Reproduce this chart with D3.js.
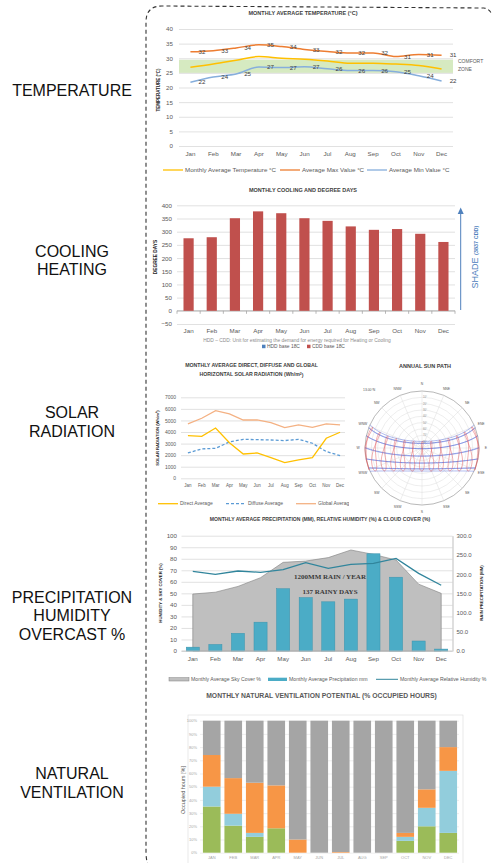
<!DOCTYPE html>
<html>
<head>
<meta charset="utf-8">
<script src="https://cdn.jsdelivr.net/npm/d3@7"></script>
<style>
  body { margin: 0; background: #fff; }
  svg { display: block; }
</style>
</head>
<body>
<div id="vis"></div>
<script>
// ---- data ----
const months = ["Jan", "Feb", "Mar", "Apr", "May", "Jun", "Jul", "Aug", "Sep", "Oct", "Nov", "Dec"];
const monthsUpper = ["JAN", "FEB", "MAR", "APR", "MAY", "JUN", "JUL", "AUG", "SEP", "OCT", "NOV", "DEC"];
const sectionLabels = [["TEMPERATURE"], ["COOLING", "HEATING"], ["SOLAR", "RADIATION"], ["PRECIPITATION", "HUMIDITY", "OVERCAST %"], ["NATURAL", "VENTILATION"]];

// temperature (°C)
const maxTemp = [32.2, 32.6, 33.5, 34.6, 34.0, 33.0, 32.3, 31.8, 31.8, 30.6, 31.3, 31.0];
const avgTemp = [26.9, 28.0, 29.3, 30.6, 30.0, 29.7, 29.1, 28.3, 28.3, 28.0, 27.5, 26.3];
const minTemp = [21.8, 23.6, 24.6, 27.0, 26.8, 27.1, 26.4, 25.8, 25.8, 25.4, 24.0, 22.2];
const comfortZone = [25, 29.5];
const tempTicks = [0, 5, 10, 15, 20, 25, 30, 35, 40];

// degree days
const cdd = [275, 279, 351, 377, 370, 351, 341, 320, 307, 310, 292, 261];
const ddTicks = [-50, 0, 50, 100, 150, 200, 250, 300, 350, 400];
const cddTotal = "(3837 CDD)";

// solar radiation (Wh/m2)
const directRad = [3690, 3630, 4350, 3080, 2100, 2190, 1790, 1350, 1590, 1790, 3460, 3980];
const diffuseRad = [2190, 2540, 2590, 3140, 3370, 3340, 3310, 3260, 3370, 3030, 2310, 1960];
const globalRad = [4700, 5190, 5850, 5560, 5040, 5040, 4810, 4380, 4610, 4410, 4700, 4610];
const solarTicks = [0, 1000, 2000, 3000, 4000, 5000, 6000, 7000];

// sun path
const latitude = 13;
const monthDecl = [-20.1, -10.8, 0.0, 11.9, 20.1, 23.4, 20.5, 12.0, 0.5, -10.7, -19.8, -23.4];
const eqTime = [-11.2, -13.9, -7.3, 1.2, 3.4, -1.6, -6.3, -3.3, 6.9, 15.4, 14.0, 1.9];
const sunHours = [6, 7, 8, 9, 10, 11, 12, 13, 14, 15, 16, 17, 18];
const compass = ["N", "NNE", "NE", "ENE", "E", "ESE", "SE", "SSE", "S", "SSW", "SW", "WSW", "W", "WNW", "NW", "NNW"];
const altRings = [10, 20, 30, 40, 50, 60, 70, 80];

// precipitation, humidity, sky cover
const skyCover = [49.4, 51, 56, 63.6, 76.9, 78, 81, 87.6, 83.8, 78.9, 58, 50];
const precipitation = [10, 17, 46, 75, 162, 139, 128, 135, 253, 192, 26, 5];
const humidity = [69, 66.5, 69.4, 68.2, 70.5, 76.6, 71.7, 75.1, 76, 80.3, 67.3, 57];
const pctTicks = [0, 10, 20, 30, 40, 50, 60, 70, 80, 90, 100];
const rainTicks = [0, 50, 100, 150, 200, 250, 300];

// natural ventilation (% occupied hours)
const ventGreen = [35, 20.5, 12, 18.5, 0, 0, 0, 0, 0, 9, 20, 15];
const ventBlue = [15, 9, 3, 0, 0, 0, 0, 0, 0, 3, 14, 47];
const ventOrange = [24, 27, 38, 32.5, 10, 0, 0.5, 0, 0, 3, 14, 18];
const ventGrey = [26, 43.5, 47, 49, 90, 100, 99.5, 100, 100, 85, 52, 20];
const ventTicks = [0, 10, 20, 30, 40, 50, 60, 70, 80, 90, 100];

// ---- setup ----
const width = 494, height = 863;
const font = "'Liberation Sans', Arial, sans-serif";
const grid = "#d9d9d9";
const tickColor = "#595959";

const svg = d3.select("#vis").append("svg")
  .attr("width", width).attr("height", height)
  .attr("font-family", font);

// left section labels
const sectionY = [[90], [251, 269], [412, 431], [597, 615.5, 634], [773, 792]];
sectionLabels.forEach((lines, i) => {
  lines.forEach((t, j) => {
    svg.append("text").attr("x", 72).attr("y", sectionY[i][j]).attr("dy", "0.36em")
      .attr("text-anchor", "middle").attr("font-size", 16).attr("fill", "#111").text(t);
  });
});

// dashed frame
svg.append("path")
  .attr("d", "M153,872 Q146,866 146,852 L146,22 Q146,6 162,6 L484,8 Q490,9 492,15")
  .attr("fill", "none").attr("stroke", "#333").attr("stroke-width", 1.1)
  .attr("stroke-dasharray", "4,3");

// helpers
function gridAxis(g, y, ticks, x0, x1, labelX, size, fmt) {
  g.append("g")
    .attr("transform", `translate(${x0},0)`)
    .call(d3.axisLeft(y).tickValues(ticks).tickSize(-(x1 - x0)).tickPadding(x0 - labelX).tickFormat(fmt || d3.format("d")))
    .call(a => a.select(".domain").remove())
    .call(a => a.selectAll("line").attr("stroke", grid).attr("stroke-width", 0.8))
    .call(a => a.attr("font-family", font).attr("font-size", size))
    .call(a => a.selectAll("text").attr("fill", tickColor));
}
function monthAxis(g, x, yPos, size, color) {
  g.append("g")
    .attr("transform", `translate(0,${yPos})`)
    .call(d3.axisBottom(x).tickSize(0).tickPadding(0))
    .call(a => a.select(".domain").remove())
    .call(a => a.attr("font-family", font).attr("font-size", size))
    .call(a => a.selectAll("text").attr("fill", color || tickColor));
}
function title(g, x, y, t, size, color) {
  g.append("text").attr("x", x).attr("y", y).attr("dy", "0.35em").attr("text-anchor", "middle")
    .attr("font-size", size).attr("font-weight", "bold").attr("fill", color || "#404040").text(t);
}
function vTitle(g, x, y, t, size, color) {
  g.append("text").attr("transform", `translate(${x},${y}) rotate(-90)`).attr("dy", "0.35em")
    .attr("text-anchor", "middle").attr("font-size", size).attr("font-weight", "bold")
    .attr("fill", color || "#262626").text(t);
}
function lineKey(g, x, y, color, t, size, dash) {
  g.append("line").attr("x1", x).attr("x2", x + 20).attr("y1", y).attr("y2", y)
    .attr("stroke", color).attr("stroke-width", 1.3).attr("stroke-dasharray", dash || null);
  g.append("text").attr("x", x + 22).attr("y", y).attr("dy", "0.35em")
    .attr("font-size", size).attr("fill", tickColor).text(t);
}

// ---- temperature ----
{
  const g = svg.append("g");
  const x = d3.scaleBand().domain(months).range([179, 453]);
  const y = d3.scaleLinear().domain([0, 40]).range([146, 29]);
  const cx = i => x(months[i]) + x.bandwidth() / 2;

  title(g, 303, 13, "MONTHLY AVERAGE TEMPERATURE (°C)", 5.5);
  g.append("rect").attr("x", 179).attr("width", 274)
    .attr("y", y(comfortZone[1])).attr("height", y(comfortZone[0]) - y(comfortZone[1]))
    .attr("fill", "#d6eac1");
  gridAxis(g, y, tempTicks, 179, 453, 173, 6.2);
  monthAxis(g, x, 152, 6.2);
  vTitle(g, 158, 90, "TEMPERATURE (°C)", 4.5);

  g.append("text").attr("x", 458).attr("y", 63).attr("font-size", 5).attr("fill", tickColor).text("COMFORT");
  g.append("text").attr("x", 458).attr("y", 71).attr("font-size", 5).attr("fill", tickColor).text("ZONE");

  const series = [[avgTemp, "#ffc000", false], [maxTemp, "#ed7d31", true], [minTemp, "#86aedc", true]];
  series.forEach(([vals, color, labels]) => {
    g.append("path").datum(vals)
      .attr("d", d3.line().x((d, i) => cx(i)).y(d => y(d)).curve(d3.curveMonotoneX))
      .attr("fill", "none").attr("stroke", color).attr("stroke-width", 1.5);
    if (labels) {
      g.selectAll(null).data(vals).join("text")
        .attr("x", (d, i) => cx(i) + 11.5).attr("y", d => y(d)).attr("dy", "0.35em")
        .attr("text-anchor", "middle").attr("font-size", 6.2).attr("fill", "#404040")
        .text(d => Math.round(d));
    }
  });

  lineKey(g, 163, 170, "#ffc000", "Monthly Average Temperature °C", 6.2);
  lineKey(g, 280, 170, "#ed7d31", "Average Max Value °C", 6.2);
  lineKey(g, 367, 170, "#86aedc", "Average Min Value °C", 6.2);
}

// ---- cooling degree days ----
{
  const g = svg.append("g");
  const x = d3.scaleBand().domain(months).range([177, 455]).paddingInner(0.56).paddingOuter(0.28);
  const y = d3.scaleLinear().domain([-50, 400]).range([324, 205.3]);

  title(g, 303, 190, "MONTHLY COOLING AND DEGREE DAYS", 5.5);
  gridAxis(g, y, ddTicks, 177, 455, 172, 6.2);
  // zero axis with category ticks
  g.append("line").attr("x1", 177).attr("x2", 455).attr("y1", y(0)).attr("y2", y(0))
    .attr("stroke", "#a6a6a6").attr("stroke-width", 0.8);
  g.selectAll(null).data(months.concat(["end"])).join("line")
    .attr("x1", (d, i) => 177 + i * x.step()).attr("x2", (d, i) => 177 + i * x.step())
    .attr("y1", y(0)).attr("y2", y(0) + 3).attr("stroke", "#a6a6a6").attr("stroke-width", 0.8);

  g.selectAll(null).data(cdd).join("rect")
    .attr("x", (d, i) => x(months[i])).attr("width", x.bandwidth())
    .attr("y", d => y(d)).attr("height", d => y(0) - y(d))
    .attr("fill", "#c0504d");

  monthAxis(g, x, 328.5, 6.2);
  vTitle(g, 155, 257, "DEGREE DAYS", 4.8);

  g.append("text").attr("x", 297).attr("y", 340).attr("dy", "0.35em").attr("text-anchor", "middle")
    .attr("font-size", 4.9).attr("fill", "#8c8c8c")
    .text("HDD – CDD: Unit for estimating the demand for energy required for Heating or Cooling");
  g.append("rect").attr("x", 262).attr("y", 344.7).attr("width", 3.5).attr("height", 3.5).attr("fill", "#4f81bd");
  g.append("text").attr("x", 267).attr("y", 346.5).attr("dy", "0.35em").attr("font-size", 4.9).attr("fill", tickColor).text("HDD base 18C");
  g.append("rect").attr("x", 307).attr("y", 344.7).attr("width", 3.5).attr("height", 3.5).attr("fill", "#c0504d");
  g.append("text").attr("x", 312).attr("y", 346.5).attr("dy", "0.35em").attr("font-size", 4.9).attr("fill", tickColor).text("CDD base 18C");

  // shade arrow
  g.append("line").attr("x1", 460.7).attr("x2", 460.7).attr("y1", 310).attr("y2", 213)
    .attr("stroke", "#4f81bd").attr("stroke-width", 1);
  g.append("path").attr("d", "M457.7,214 L460.7,207.5 L463.7,214 Z").attr("fill", "#4f81bd");
  const t = g.append("text").attr("transform", "translate(472,257) rotate(-90)").attr("dy", "0.35em")
    .attr("text-anchor", "middle").attr("fill", "#4f81bd");
  t.append("tspan").attr("font-size", 9).text("SHADE ");
  t.append("tspan").attr("font-size", 5.5).attr("font-weight", "bold").text(" " + cddTotal);
}

// ---- solar radiation ----
{
  const g = svg.append("g");
  const x = d3.scaleBand().domain(months).range([181, 347]);
  const y = d3.scaleLinear().domain([0, 7000]).range([478.3, 397.3]);
  const cx = i => x(months[i]) + x.bandwidth() / 2;

  title(g, 251.5, 365, "MONTHLY AVERAGE DIRECT, DIFFUSE AND GLOBAL", 5.2);
  const t2 = g.append("text").attr("x", 251.5).attr("y", 374).attr("dy", "0.35em").attr("text-anchor", "middle")
    .attr("font-size", 5.2).attr("font-weight", "bold").attr("fill", "#404040");
  t2.append("tspan").text("HORIZONTAL SOLAR RADIATION (Wh/m");
  t2.append("tspan").attr("font-size", 3.5).attr("dy", "-0.25em").text("2");
  t2.append("tspan").attr("dy", "0.35em").text(")");

  gridAxis(g, y, solarTicks, 181, 345, 176, 5);
  monthAxis(g, x, 483.5, 4.5);
  vTitle(g, 158, 438, "SOLAR RADIATION (Wh/m²)", 4.2);

  const series = [[globalRad, "#f4b183", null], [diffuseRad, "#5b9bd5", "3,2"], [directRad, "#ffc000", null]];
  series.forEach(([vals, color, dash]) => {
    g.append("path").datum(vals)
      .attr("d", d3.line().x((d, i) => cx(i)).y(d => y(d)))
      .attr("fill", "none").attr("stroke", color).attr("stroke-width", 1.3)
      .attr("stroke-dasharray", dash);
  });

  lineKey(g, 158, 503.7, "#ffc000", "Direct Average", 5);
  lineKey(g, 226, 503.7, "#5b9bd5", "Diffuse Average", 5, "3,2");
  lineKey(g, 296, 503.7, "#f4b183", "Global Average", 5);
}

// ---- sun path ----
{
  const g = svg.append("g");
  g.append("rect").attr("x", 349).attr("y", 356).attr("width", 145).attr("height", 152).attr("fill", "#fff");
  const c = [422, 448], R = 57;
  const rad = Math.PI / 180;
  const rScale = d3.scaleLinear().domain([90, 0]).range([0, R]);
  const project = ([az, alt]) => {
    const rr = rScale(Math.max(0, alt));
    return [c[0] + rr * Math.sin(az * rad), c[1] - rr * Math.cos(az * rad)];
  };
  const sunPos = (decl, ha) => {
    const phi = latitude * rad, d = decl * rad, h = ha * rad;
    const alt = Math.asin(Math.sin(phi) * Math.sin(d) + Math.cos(phi) * Math.cos(d) * Math.cos(h));
    const cosAz = (Math.sin(d) - Math.sin(alt) * Math.sin(phi)) / (Math.cos(alt) * Math.cos(phi));
    let az = Math.acos(Math.max(-1, Math.min(1, cosAz)));
    if (h > 0) az = 2 * Math.PI - az;
    return [az / rad, alt / rad];
  };

  title(g, 425, 366, "ANNUAL SUN PATH", 5.5);
  g.append("circle").attr("cx", c[0]).attr("cy", c[1]).attr("r", R)
    .attr("fill", "#fff").attr("stroke", "#9a9a9a").attr("stroke-width", 0.7);
  g.selectAll(null).data(altRings).join("circle")
    .attr("cx", c[0]).attr("cy", c[1]).attr("r", d => rScale(d))
    .attr("fill", "none").attr("stroke", "#d4d4d4").attr("stroke-width", 0.4);
  g.selectAll(null).data(compass).join("line")
    .attr("x1", c[0]).attr("y1", c[1])
    .attr("x2", (d, i) => c[0] + R * Math.sin(i * 22.5 * rad))
    .attr("y2", (d, i) => c[1] - R * Math.cos(i * 22.5 * rad))
    .attr("stroke", "#d4d4d4").attr("stroke-width", 0.4);
  g.selectAll(null).data(compass).join("text")
    .attr("x", (d, i) => c[0] + (R + 7) * Math.sin(i * 22.5 * rad))
    .attr("y", (d, i) => c[1] - (R + 7) * Math.cos(i * 22.5 * rad))
    .attr("dy", "0.35em").attr("text-anchor", "middle").attr("font-size", 3.4).attr("fill", "#555")
    .text(d => d);
  g.selectAll(null).data(altRings).join("text")
    .attr("x", c[0] + 1).attr("y", d => c[1] - rScale(d)).attr("dy", "0.35em")
    .attr("font-size", 2.6).attr("fill", "#888").text(d => d + "°");
  g.append("text").attr("x", 363).attr("y", 391).attr("font-size", 3.4).attr("fill", "#555")
    .text(latitude.toFixed(2) + "°N");

  // date lines
  monthDecl.forEach(decl => {
    const ws = Math.acos(-Math.tan(latitude * rad) * Math.tan(decl * rad)) / rad;
    const pts = d3.range(-ws, ws + 0.01, ws / 40).map(h => project(sunPos(decl, h)));
    g.append("path").attr("d", d3.line()(pts))
      .attr("fill", "none").attr("stroke", "#4a63d8").attr("stroke-width", 0.55).attr("stroke-opacity", 0.8);
  });
  // hour analemmas
  sunHours.forEach(hr => {
    const pts = monthDecl.map((decl, i) => project(sunPos(decl, 15 * (hr - 12) + eqTime[i] / 4)));
    g.append("path").attr("d", d3.line().curve(d3.curveCardinalClosed)(pts))
      .attr("fill", "none").attr("stroke", "#e0444a").attr("stroke-width", 0.5).attr("stroke-opacity", 0.85);
  });
}

// ---- precipitation / humidity / sky cover ----
{
  const g = svg.append("g");
  const x = d3.scaleBand().domain(months).range([181.5, 452.5]).paddingInner(0.42).paddingOuter(0.21);
  const y = d3.scaleLinear().domain([0, 100]).range([651, 535.7]);
  const yR = d3.scaleLinear().domain([0, 300]).range([651, 535.7]);
  const cx = i => x(months[i]) + x.bandwidth() / 2;

  title(g, 320, 519.5, "MONTHLY AVERAGE PRECIPITATION (MM), RELATIVE HUMIDITY (%) & CLOUD COVER (%)", 5.1);
  gridAxis(g, y, pctTicks, 181.5, 452.5, 177, 6.2);
  g.append("g").attr("transform", "translate(452.5,0)")
    .call(d3.axisRight(yR).tickValues(rainTicks).tickSize(0).tickPadding(4).tickFormat(d3.format(".1f")))
    .call(a => a.select(".domain").attr("stroke", "#bfbfbf"))
    .call(a => a.attr("font-family", font).attr("font-size", 6))
    .call(a => a.selectAll("text").attr("fill", tickColor));

  g.append("path").datum(skyCover)
    .attr("d", d3.area().x((d, i) => cx(i)).y0(y(0)).y1(d => y(d)))
    .attr("fill", "#bfbfbf").attr("stroke", "#7f7f7f").attr("stroke-width", 0.6);
  g.selectAll(null).data(precipitation).join("rect")
    .attr("x", (d, i) => x(months[i])).attr("width", x.bandwidth())
    .attr("y", d => yR(d)).attr("height", d => yR(0) - yR(d))
    .attr("fill", "#4bacc6").attr("stroke", "#3a93ad").attr("stroke-width", 0.5);
  g.append("path").datum(humidity)
    .attr("d", d3.line().x((d, i) => cx(i)).y(d => y(d)))
    .attr("fill", "none").attr("stroke", "#31859c").attr("stroke-width", 1.3);
  g.append("line").attr("x1", 181.5).attr("x2", 452.5).attr("y1", y(0)).attr("y2", y(0))
    .attr("stroke", "#bfbfbf").attr("stroke-width", 0.8);

  const serif = "'Liberation Serif', 'DejaVu Serif', serif";
  g.append("text").attr("x", 330).attr("y", 577).attr("dy", "0.35em").attr("text-anchor", "middle")
    .attr("font-family", serif).attr("font-weight", "bold").attr("font-size", 7).attr("fill", "#3a3a3a")
    .text("1200MM RAIN / YEAR");
  g.append("text").attr("x", 330).attr("y", 592).attr("dy", "0.35em").attr("text-anchor", "middle")
    .attr("font-family", serif).attr("font-weight", "bold").attr("font-size", 7).attr("fill", "#3a3a3a")
    .text("137 RAINY DAYS");

  monthAxis(g, x, 656.5, 6.2);
  vTitle(g, 160.7, 593, "HUMIDITY & SKY COVER (%)", 4.3);
  vTitle(g, 481.7, 593, "RAIN PRECIPITATION (MM)", 4.3);

  // legend
  g.append("rect").attr("x", 169).attr("y", 677.7).attr("width", 20).attr("height", 3.3)
    .attr("fill", "#bfbfbf").attr("stroke", "#7f7f7f").attr("stroke-width", 0.5);
  g.append("text").attr("x", 191).attr("y", 679.3).attr("dy", "0.35em").attr("font-size", 5.2).attr("fill", tickColor).text("Monthly Average Sky Cover %");
  g.append("rect").attr("x", 268).attr("y", 677.7).attr("width", 19).attr("height", 3.3).attr("fill", "#4bacc6");
  g.append("text").attr("x", 289).attr("y", 679.3).attr("dy", "0.35em").attr("font-size", 5.2).attr("fill", tickColor).text("Monthly Average Precipitation mm");
  g.append("line").attr("x1", 376).attr("x2", 398).attr("y1", 679.3).attr("y2", 679.3).attr("stroke", "#31859c").attr("stroke-width", 1);
  g.append("text").attr("x", 400).attr("y", 679.3).attr("dy", "0.35em").attr("font-size", 5.2).attr("fill", tickColor).text("Monthly Average Relative Humidity %");
}

// ---- natural ventilation ----
{
  const g = svg.append("g");
  const x = d3.scaleBand().domain(monthsUpper).range([201, 459]).paddingInner(0.18).paddingOuter(0.09);
  const y = d3.scaleLinear().domain([0, 100]).range([852.7, 720.7]);

  title(g, 321.5, 696, "MONTHLY NATURAL VENTILATION POTENTIAL (% OCCUPIED HOURS)", 6.8, "#595959");
  g.append("rect").attr("x", 188).attr("y", 715).attr("width", 275).attr("height", 160)
    .attr("fill", "#fff").attr("stroke", "#d9d9d9").attr("stroke-width", 0.6);

  g.append("g").attr("transform", "translate(200,0)")
    .call(d3.axisLeft(y).tickValues(ventTicks).tickSize(-259).tickPadding(3).tickFormat(d => d + "%"))
    .call(a => a.select(".domain").remove())
    .call(a => a.selectAll("line").attr("stroke", "#e8e8e8").attr("stroke-width", 0.7))
    .call(a => a.attr("font-family", font).attr("font-size", 4))
    .call(a => a.selectAll("text").attr("fill", "#a6a6a6"));

  const rows = monthsUpper.map((m, i) => ({m, green: ventGreen[i], blue: ventBlue[i], orange: ventOrange[i], grey: ventGrey[i]}));
  const keys = ["green", "blue", "orange", "grey"];
  const colors = {green: "#9bbb59", blue: "#92cddc", orange: "#f79646", grey: "#a5a5a5"};
  const stacked = d3.stack().keys(keys)(rows);
  g.selectAll(null).data(stacked).join("g").attr("fill", d => colors[d.key])
    .selectAll("rect").data(d => d).join("rect")
    .attr("x", d => x(d.data.m)).attr("width", x.bandwidth())
    .attr("y", d => y(d[1])).attr("height", d => y(d[0]) - y(d[1]));

  monthAxis(g, x, 856.5, 4, "#a6a6a6");
  g.append("text").attr("transform", "translate(183.3,790) rotate(-90)").attr("dy", "0.35em")
    .attr("text-anchor", "middle").attr("font-size", 5.5).attr("fill", tickColor).text("Occupied hours [%]");
}
</script>
</body>
</html>
